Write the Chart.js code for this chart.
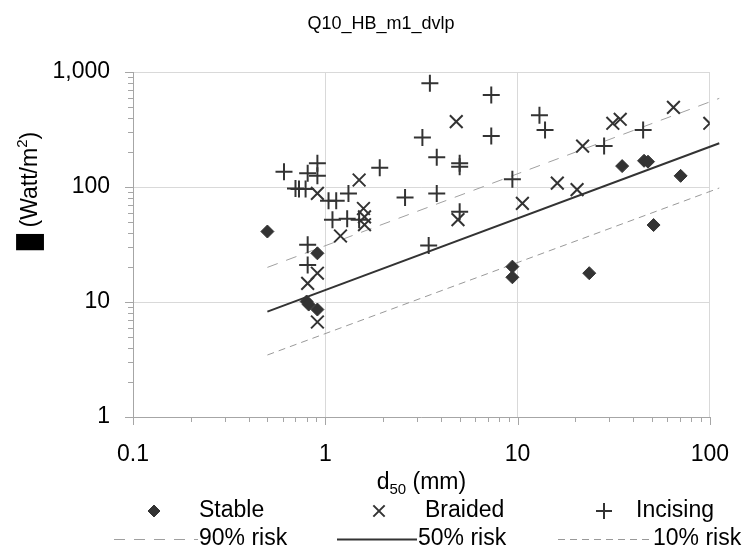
<!DOCTYPE html>
<html>
<head>
<meta charset="utf-8">
<script src="https://cdn.jsdelivr.net/npm/chart.js@4.4.1/dist/chart.umd.min.js"></script>
<style>
    html, body { margin: 0; padding: 0; background: #fff; }
    #wrap { width: 753px; height: 558px; }
</style>
</head>
<body>
<div id="wrap"><canvas id="riskChart" width="753" height="558"></canvas></div>
<script>
// Chart texts
const chartTitle = 'Q10_HB_m1_dvlp';

// Tick values on both log axes
const xTicks = [0.1, 1, 10, 100];
const yTicks = [1, 10, 100, 1000];

// Stable channels: d50 (mm) and stream power (W/m2)
const stableX = [0.5, 0.91, 0.80, 0.82, 0.91, 9.4, 9.4, 23.6, 35, 45.5, 47.7, 70.5, 51];
const stableY = [41, 26.5, 10.1, 9.5, 8.6, 20.3, 16.4, 17.8, 152, 169, 166, 125, 46.7];

// Braided channels
const braidedX = [0.91, 1.5, 1.2, 0.91, 0.81, 0.91, 1.58, 1.6, 1.6, 4.8, 4.9, 10.6, 16.1, 20.4, 21.8, 31.3, 34.2, 64.7, 100];
const braidedY = [88, 115, 37.5, 17.8, 14.5, 6.7, 65, 55, 47, 370, 52, 72, 108, 95, 227, 358, 388, 493, 358];

// Incising channels
const incisingX = [0.61, 0.81, 0.91, 0.91, 0.70, 0.73, 0.79, 1.04, 1.14, 1.32, 1.09, 1.3, 0.81, 0.81, 1.5,
                   3.5, 7.3, 3.2, 7.3, 3.8, 5.0, 5.0, 1.92, 9.4, 2.6, 3.8, 5.0, 3.45, 13, 13.9, 28.2, 45];
const incisingY = [136, 132, 161, 125, 97, 96, 96, 76, 76, 88, 52, 53, 31.5, 21, 52,
                   800, 630, 270, 278, 181, 161, 150, 147, 117, 81, 88, 61, 31, 420, 313, 227, 313];

// Risk lines (end points)
const riskX = [0.5, 112];
const risk90 = [20, 590];
const risk50 = [8.25, 240];
const risk10 = [3.46, 98];

const FONT = "'Liberation Sans', Arial, sans-serif";
const INK = '#333333';

function toPoints(xs, ys) {
    return xs.map((x, i) => ({ x: x, y: ys[i] }));
}

function fmtTick(v) {
    return v >= 1000 ? v.toLocaleString('en-US') : String(v);
}

// Minor tick marks, titles and the two-row legend
const decorPlugin = {
    id: 'decor',
    afterDraw(chart) {
        const ctx = chart.ctx;
        const xs = chart.scales.x;
        const ys = chart.scales.y;
        const area = chart.chartArea;

        // tick marks outside the axes
        ctx.save();
        ctx.strokeStyle = '#a6a6a6';
        ctx.lineWidth = 1;
        ctx.beginPath();
        for (let e = -1; e < 2; e++) {
            for (let m = 1; m <= 10; m++) {
                const px = Math.round(xs.getPixelForValue(m * Math.pow(10, e))) + 0.5;
                const len = (m === 1 || m === 10) ? 8 : 5;
                ctx.moveTo(px, area.bottom);
                ctx.lineTo(px, area.bottom + len);
            }
        }
        for (let e = 0; e < 3; e++) {
            for (let m = 1; m <= 10; m++) {
                const py = Math.round(ys.getPixelForValue(m * Math.pow(10, e))) + 0.5;
                const len = (m === 1 || m === 10) ? 8 : 5;
                ctx.moveTo(area.left, py);
                ctx.lineTo(area.left - len, py);
            }
        }
        ctx.stroke();
        ctx.restore();

        ctx.save();
        ctx.fillStyle = '#000';
        ctx.textBaseline = 'alphabetic';

        // chart title
        ctx.font = `18px ${FONT}`;
        ctx.textAlign = 'center';
        ctx.fillText(chartTitle, 381, 29);

        // x axis title: d50 (mm)
        ctx.textAlign = 'left';
        const big = `23px ${FONT}`;
        const small = `15px ${FONT}`;
        ctx.font = big;
        const wD = ctx.measureText('d').width;
        const wRest = ctx.measureText(' (mm)').width;
        ctx.font = small;
        const wSub = ctx.measureText('50').width;
        let x0 = (area.left + area.right) / 2 - (wD + wSub + wRest) / 2;
        ctx.font = big;
        ctx.fillText('d', x0, 489);
        ctx.font = small;
        ctx.fillText('50', x0 + wD, 494);
        ctx.font = big;
        ctx.fillText(' (mm)', x0 + wD + wSub, 489);

        // y axis title, rotated
        ctx.save();
        ctx.translate(37, 191);
        ctx.rotate(-Math.PI / 2);
        ctx.font = big;
        const partA = '\u2588 (Watt/m';
        const wA = ctx.measureText(partA).width;
        const wC = ctx.measureText(')').width;
        ctx.font = small;
        const wSup = ctx.measureText('2').width;
        let y0 = -(wA + wSup + wC) / 2;
        ctx.font = big;
        ctx.fillText(partA, y0, 0);
        ctx.font = small;
        ctx.fillText('2', y0 + wA, -10);
        ctx.font = big;
        ctx.fillText(')', y0 + wA + wSup, 0);
        ctx.restore();

        // legend: markers in the first row, line samples in the second
        const helpers = Chart.helpers;
        const ds = chart.data.datasets;
        const markerX = [154, 379, 604];
        const textX1 = [199, 425, 636];
        const lineSpan = [[114, 198], [337, 417], [558, 651]];
        const textX2 = [199, 418, 653];
        const row1 = 511, row2 = 539;
        ctx.font = big;
        ctx.textBaseline = 'middle';
        for (let i = 0; i < 3; i++) {
            const d = ds[i];
            ctx.fillStyle = INK;
            ctx.strokeStyle = INK;
            ctx.lineWidth = d.borderWidth;
            helpers.drawPoint(ctx, {
                pointStyle: d.pointStyle,
                radius: d.legendRadius,
                borderWidth: d.borderWidth
            }, markerX[i], row1);
            ctx.fillStyle = '#000';
            ctx.fillText(d.label, textX1[i], row1);
        }
        const lineOrder = [3, 4, 5];
        lineOrder.forEach((k, i) => {
            const d = ds[k];
            ctx.save();
            ctx.strokeStyle = d.borderColor;
            ctx.lineWidth = d.borderWidth;
            ctx.setLineDash(d.borderDash || []);
            ctx.beginPath();
            ctx.moveTo(lineSpan[i][0], row2 + 0.5);
            ctx.lineTo(lineSpan[i][1], row2 + 0.5);
            ctx.stroke();
            ctx.restore();
            ctx.fillStyle = '#000';
            ctx.fillText(d.label, textX2[i], row2);
        });
        ctx.restore();
    }
};

function renderChart() {
    const ctx = document.getElementById('riskChart').getContext('2d');

    new Chart(ctx, {
        type: 'scatter',
        data: {
            datasets: [
                {
                    label: 'Stable',
                    data: toPoints(stableX, stableY),
                    pointStyle: 'rectRot',
                    pointRadius: 6.5,
                    legendRadius: 6,
                    backgroundColor: INK,
                    borderColor: INK,
                    borderWidth: 1,
                    order: 1
                },
                {
                    label: 'Braided',
                    data: toPoints(braidedX, braidedY),
                    pointStyle: 'crossRot',
                    pointRadius: 9,
                    legendRadius: 8,
                    backgroundColor: INK,
                    borderColor: INK,
                    borderWidth: 2,
                    order: 2
                },
                {
                    label: 'Incising',
                    data: toPoints(incisingX, incisingY),
                    pointStyle: 'cross',
                    pointRadius: 8.5,
                    legendRadius: 8,
                    backgroundColor: INK,
                    borderColor: INK,
                    borderWidth: 2,
                    order: 3
                },
                {
                    label: '90% risk',
                    data: toPoints(riskX, risk90),
                    showLine: true,
                    pointRadius: 0,
                    borderColor: '#a0a0a0',
                    borderWidth: 1,
                    borderDash: [11, 9],
                    clip: false,
                    order: 4
                },
                {
                    label: '50% risk',
                    data: toPoints(riskX, risk50),
                    showLine: true,
                    pointRadius: 0,
                    borderColor: INK,
                    borderWidth: 2,
                    clip: false,
                    order: 5
                },
                {
                    label: '10% risk',
                    data: toPoints(riskX, risk10),
                    showLine: true,
                    pointRadius: 0,
                    borderColor: '#999999',
                    borderWidth: 1,
                    borderDash: [7, 5],
                    clip: false,
                    order: 6
                }
            ]
        },
        options: {
            responsive: false,
            animation: false,
            events: [],
            layout: { padding: { left: 0, right: 30, top: 72, bottom: 0 } },
            scales: {
                x: {
                    type: 'logarithmic',
                    min: 0.1,
                    max: 100,
                    afterBuildTicks: (scale) => {
                        scale.ticks = xTicks.map(v => ({ value: v, major: true }));
                    },
                    afterFit: (scale) => { scale.height = 141; },
                    grid: { color: '#d9d9d9', drawTicks: false },
                    border: { color: '#a6a6a6' },
                    ticks: {
                        autoSkip: false,
                        maxRotation: 0,
                        padding: 24,
                        color: '#000',
                        font: { family: FONT, size: 23 },
                        callback: (v) => fmtTick(v)
                    }
                },
                y: {
                    type: 'logarithmic',
                    min: 1,
                    max: 1000,
                    afterBuildTicks: (scale) => {
                        scale.ticks = yTicks.map(v => ({ value: v, major: true }));
                    },
                    afterFit: (scale) => { scale.width = 133; },
                    grid: { color: '#d9d9d9', drawTicks: false },
                    border: { color: '#a6a6a6' },
                    ticks: {
                        autoSkip: false,
                        padding: 23,
                        color: '#000',
                        font: { family: FONT, size: 23 },
                        callback: (v) => fmtTick(v)
                    }
                }
            },
            plugins: {
                legend: { display: false },
                title: { display: false },
                tooltip: { enabled: false }
            }
        },
        plugins: [decorPlugin]
    });
}

document.addEventListener('DOMContentLoaded', renderChart);
</script>
</body>
</html>
